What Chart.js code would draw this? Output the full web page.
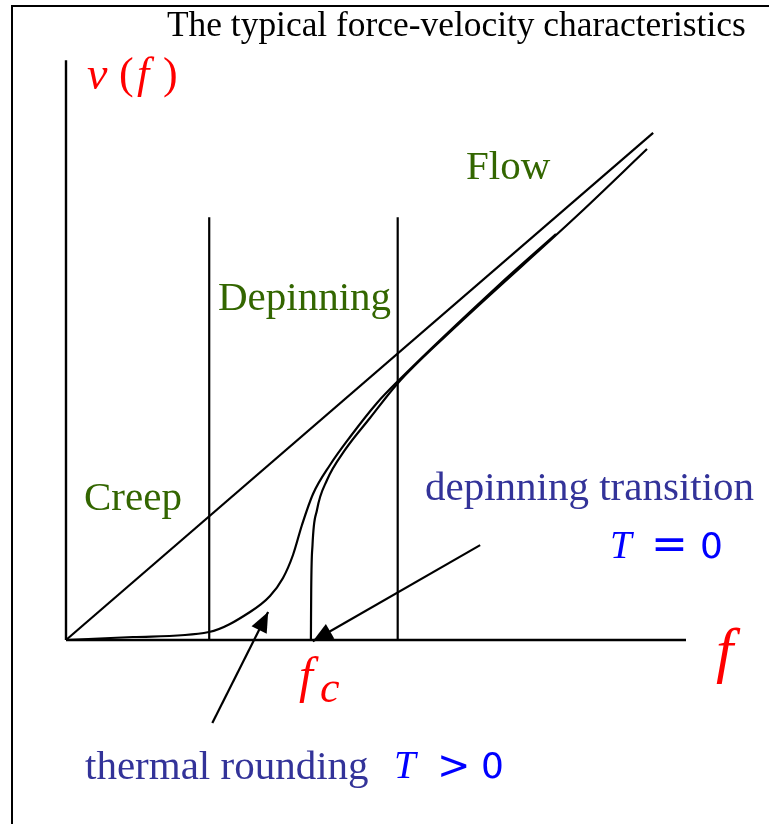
<!DOCTYPE html>
<html>
<head>
<meta charset="utf-8">
<script src="https://cdn.jsdelivr.net/npm/chart.js@4.4.0/dist/chart.umd.min.js"></script>
<style>
  html, body { margin: 0; padding: 0; background: #fff; overflow: hidden; }
  #wrap { width: 769px; height: 824px; position: relative; }
</style>
</head>
<body>
<div id="wrap"><canvas id="c"></canvas></div>
<script>
// Force f and velocity v in arbitrary units (critical force fc = 4).
const fAxisEnd = 10;
const vAxisTop = 9.35;
const regionBounds = [2.31, 5.35];   // creep | depinning | flow
const regionBoundTop = 6.82;
const linearEnd = [9.47, 8.18];      // v ~ f line

// T = 0 depinning transition curve
const zeroTempF = [3.950, 3.955, 3.976, 4.048, 4.210, 4.500, 4.903, 5.355, 6.194, 8.290, 9.371];
const zeroTempV = [0.000, 0.806, 1.532, 2.097, 2.580, 3.065, 3.580, 4.145, 4.968, 6.887, 7.919];

// T > 0 thermally rounded curve
const thermalF = [0.000, 1.081, 2.306, 2.968, 3.290, 3.500, 3.661, 3.806, 3.984, 4.258, 4.581, 5.016, 5.355, 7.000, 7.903];
const thermalV = [0.000, 0.048, 0.129, 0.452, 0.710, 1.000, 1.371, 1.855, 2.355, 2.823, 3.274, 3.823, 4.177, 5.742, 6.548];

// annotation arrows: [tail, tip]
const arrowThermal = [[2.36, -1.34], [3.26, 0.45]];
const arrowZeroTemp = [[6.68, 1.53], [3.98, -0.02]];

const pts = (fs, vs) => fs.map((f, i) => ({ x: f, y: vs[i] }));
const seg = (a, b) => [{ x: a[0], y: a[1] }, { x: b[0], y: b[1] }];

const lineStyle = { showLine: true, pointRadius: 0, borderColor: '#000', borderWidth: 2.2, fill: false, tension: 0 };
const curveStyle = { ...lineStyle, cubicInterpolationMode: 'monotone', tension: 0.4 };

const datasets = [
  { ...lineStyle, borderWidth: 2.6, data: seg([0, 0], [fAxisEnd, 0]) },
  { ...lineStyle, borderWidth: 2.4, data: seg([0, 0], [0, vAxisTop]) },
  { ...lineStyle, data: seg([regionBounds[0], 0], [regionBounds[0], regionBoundTop]) },
  { ...lineStyle, data: seg([regionBounds[1], 0], [regionBounds[1], regionBoundTop]) },
  { ...lineStyle, data: seg([0, 0], linearEnd) },
  { ...curveStyle, data: pts(zeroTempF, zeroTempV) },
  { ...curveStyle, data: pts(thermalF, thermalV) },
  { ...lineStyle, arrow: true, data: seg(arrowThermal[0], arrowThermal[1]) },
  { ...lineStyle, arrow: true, data: seg(arrowZeroTemp[0], arrowZeroTemp[1]) }
];

// filled arrowheads at the last point of arrow datasets
const arrowHeads = {
  id: 'arrowHeads',
  afterDatasetsDraw(chart) {
    const ctx = chart.ctx;
    chart.data.datasets.forEach((ds, i) => {
      if (!ds.arrow) return;
      const p = chart.getDatasetMeta(i).data;
      const a = p[p.length - 2], b = p[p.length - 1];
      const ang = Math.atan2(b.y - a.y, b.x - a.x);
      const len = 20, half = 8.5;
      ctx.save();
      ctx.translate(b.x, b.y);
      ctx.rotate(ang);
      ctx.beginPath();
      ctx.moveTo(0, 0);
      ctx.lineTo(-len, -half);
      ctx.lineTo(-len, half);
      ctx.closePath();
      ctx.fillStyle = '#000';
      ctx.fill();
      ctx.restore();
    });
  }
};

// frame, title and annotations
const annotations = {
  id: 'annotations',
  afterDraw(chart) {
    const ctx = chart.ctx;
    ctx.save();
    ctx.strokeStyle = '#000';
    ctx.lineWidth = 2;
    ctx.beginPath();
    ctx.moveTo(12, 824); ctx.lineTo(12, 6); ctx.lineTo(769, 6);
    ctx.stroke();

    const txt = (s, x, y, font, color) => {
      ctx.font = font; ctx.fillStyle = color;
      ctx.textAlign = 'left'; ctx.textBaseline = 'alphabetic';
      ctx.fillText(s, x, y);
    };
    const serif = '"Liberation Serif", "Times New Roman", serif';
    const sans = '"DejaVu Sans", sans-serif';
    const green = '#336600', navy = '#333399', blue = '#0000ff', red = '#ff0000';

    txt('The typical force-velocity characteristics', 167, 36, '35.4px ' + serif, '#000');

    txt('Flow', 466, 179, '41px ' + serif, green);
    txt('Depinning', 218, 310, '41px ' + serif, green);
    txt('Creep', 84, 510, '41px ' + serif, green);

    txt('depinning transition', 425, 500, '41px ' + serif, navy);
    txt('thermal rounding', 85, 779, '41px ' + serif, navy);

    // T = 0
    txt('T', 610, 558, 'italic 39px ' + serif, blue);
    txt('=', 651, 559, '44px ' + sans, blue);
    txt('0', 700, 558, '36px ' + sans, blue);
    // T > 0
    txt('T', 394, 778, 'italic 39px ' + serif, blue);
    txt('>', 437, 779, '40px ' + sans, blue);
    txt('0', 481, 778, '36px ' + sans, blue);

    // axis labels
    txt('v', 87, 89, 'italic 46px ' + serif, red);
    txt('(', 119, 88, '44px ' + serif, red);
    txt('f', 137, 88, 'italic 44px ' + serif, red);
    txt(')', 163, 88, '44px ' + serif, red);

    txt('f', 716, 671, 'italic 62px ' + serif, red);
    txt('f', 299, 692, 'italic 50px ' + serif, red);
    txt('c', 320, 702, 'italic 44px ' + serif, red);
    ctx.restore();
  }
};

new Chart(document.getElementById('c'), {
  type: 'scatter',
  data: { datasets },
  options: {
    responsive: true,
    maintainAspectRatio: false,
    animation: false,
    layout: { padding: 0 },
    plugins: { legend: { display: false }, tooltip: { enabled: false }, title: { display: false } },
    elements: { line: { borderCapStyle: 'butt', borderJoinStyle: 'round' } },
    scales: {
      x: { type: 'linear', display: false, min: -66 / 62, max: 703 / 62 },
      y: { type: 'linear', display: false, min: -184 / 62, max: 640 / 62 }
    }
  },
  plugins: [arrowHeads, annotations]
});
</script>
</body>
</html>
